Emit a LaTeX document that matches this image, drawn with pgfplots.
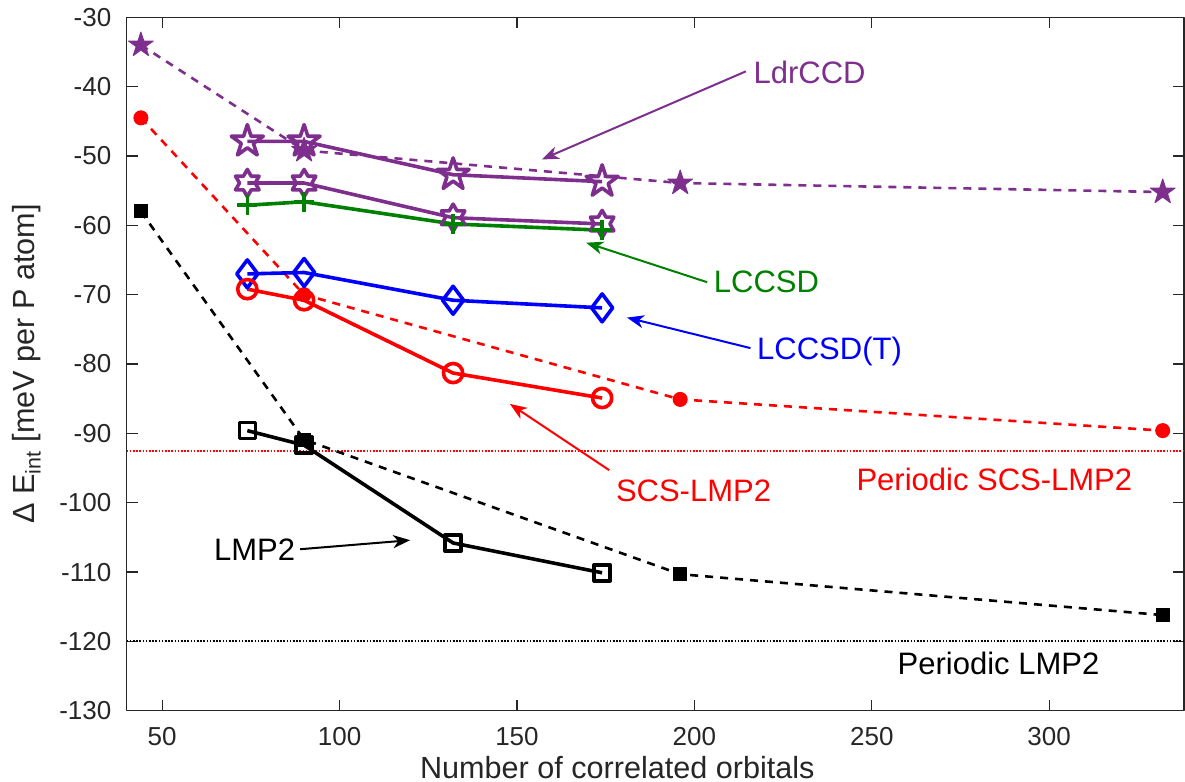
\documentclass[border=0pt]{standalone}
\usepackage{fontspec}
\setmainfont{Liberation Sans}
\usepackage{pgfplots}
\pgfplotsset{compat=1.18}
\usetikzlibrary{arrows.meta}

\definecolor{mpurple}{rgb}{0.494,0.184,0.556}
\definecolor{mgreen}{rgb}{0,0.5,0}
\definecolor{axgray}{rgb}{0.15,0.15,0.15}

% five- and six-pointed star marks (matlab pentagram / hexagram)
\pgfdeclareplotmark{pentagram}{%
  \pgfpathmoveto{\pgfpointpolar{90}{\pgfplotmarksize}}%
  \pgfpathlineto{\pgfpointpolar{126}{0.382\pgfplotmarksize}}%
  \pgfpathlineto{\pgfpointpolar{162}{\pgfplotmarksize}}%
  \pgfpathlineto{\pgfpointpolar{198}{0.382\pgfplotmarksize}}%
  \pgfpathlineto{\pgfpointpolar{234}{\pgfplotmarksize}}%
  \pgfpathlineto{\pgfpointpolar{270}{0.382\pgfplotmarksize}}%
  \pgfpathlineto{\pgfpointpolar{306}{\pgfplotmarksize}}%
  \pgfpathlineto{\pgfpointpolar{342}{0.382\pgfplotmarksize}}%
  \pgfpathlineto{\pgfpointpolar{18}{\pgfplotmarksize}}%
  \pgfpathlineto{\pgfpointpolar{54}{0.382\pgfplotmarksize}}%
  \pgfpathclose\pgfusepathqstroke}
\pgfdeclareplotmark{pentagram*}{%
  \pgfpathmoveto{\pgfpointpolar{90}{\pgfplotmarksize}}%
  \pgfpathlineto{\pgfpointpolar{126}{0.382\pgfplotmarksize}}%
  \pgfpathlineto{\pgfpointpolar{162}{\pgfplotmarksize}}%
  \pgfpathlineto{\pgfpointpolar{198}{0.382\pgfplotmarksize}}%
  \pgfpathlineto{\pgfpointpolar{234}{\pgfplotmarksize}}%
  \pgfpathlineto{\pgfpointpolar{270}{0.382\pgfplotmarksize}}%
  \pgfpathlineto{\pgfpointpolar{306}{\pgfplotmarksize}}%
  \pgfpathlineto{\pgfpointpolar{342}{0.382\pgfplotmarksize}}%
  \pgfpathlineto{\pgfpointpolar{18}{\pgfplotmarksize}}%
  \pgfpathlineto{\pgfpointpolar{54}{0.382\pgfplotmarksize}}%
  \pgfpathclose\pgfusepathqfillstroke}
\pgfdeclareplotmark{hexagram}{%
  \pgfpathmoveto{\pgfpointpolar{90}{\pgfplotmarksize}}%
  \pgfpathlineto{\pgfpointpolar{120}{0.577\pgfplotmarksize}}%
  \pgfpathlineto{\pgfpointpolar{150}{\pgfplotmarksize}}%
  \pgfpathlineto{\pgfpointpolar{180}{0.577\pgfplotmarksize}}%
  \pgfpathlineto{\pgfpointpolar{210}{\pgfplotmarksize}}%
  \pgfpathlineto{\pgfpointpolar{240}{0.577\pgfplotmarksize}}%
  \pgfpathlineto{\pgfpointpolar{270}{\pgfplotmarksize}}%
  \pgfpathlineto{\pgfpointpolar{300}{0.577\pgfplotmarksize}}%
  \pgfpathlineto{\pgfpointpolar{330}{\pgfplotmarksize}}%
  \pgfpathlineto{\pgfpointpolar{0}{0.577\pgfplotmarksize}}%
  \pgfpathlineto{\pgfpointpolar{30}{\pgfplotmarksize}}%
  \pgfpathlineto{\pgfpointpolar{60}{0.577\pgfplotmarksize}}%
  \pgfpathclose\pgfusepathqstroke}

\tikzset{
  ann/.style={font=\fontsize{15.5}{18}\selectfont, inner sep=0pt, anchor=base west},
  annarrow/.style={line width=1pt, -{Stealth[length=8.5pt,width=6.5pt,inset=2.5pt]}},
}

\begin{document}
\begin{tikzpicture}
\useasboundingbox (-63.35pt,-35.6pt) rectangle (529.15pt,355.4pt);
\begin{axis}[
  at={(0,0)}, anchor=south west,
  scale only axis, width=528.65pt, height=346.75pt,
  xmin=40, xmax=338, ymin=-130, ymax=-30,
  xtick={50,100,...,300}, ytick={-130,-120,...,-30},
  tick align=inside, major tick length=5.5pt,
  axis line style={axgray, line width=0.6pt},
  every tick/.style={axgray, line width=0.6pt},
  tick label style={font=\fontsize{13}{15}\selectfont, text=axgray},
  /pgf/number format/assume math mode=true,
  yticklabel style={inner sep=0pt, xshift=-7.5pt},
  xticklabel style={inner sep=0pt, yshift=-8.3pt},
  xlabel={Number of correlated orbitals},
  ylabel={Δ E\textsubscript{int} [meV per P atom]},
  label style={font=\fontsize{15.3}{18}\selectfont, text=axgray},
  xlabel style={at={(axis description cs:0.464,-0.0816)}, anchor=center},
  ylabel style={at={(axis description cs:-0.0943,0.5)}, anchor=center},
  line join=round,
  dashedline/.style={line width=1.3pt, dash pattern=on 4pt off 3.5pt},
  solidline/.style={line width=1.8pt},
]
% reference periodic values
\addplot[red, line width=1pt, dash pattern=on 0.8pt off 0.8pt] coordinates {(40,-92.5) (338,-92.5)};
\addplot[black, line width=1pt, dash pattern=on 0.8pt off 0.8pt] coordinates {(40,-120) (338,-120)};

% dashed series
\addplot[mpurple, dashedline, mark=pentagram*, mark size=6.5pt, mark options={solid, fill=mpurple, line width=0.5pt}]
  coordinates {(44,-34.0) (90,-49.2) (196,-53.9) (332,-55.2)};
\addplot[red, dashedline, mark=*, mark size=3.5pt, mark options={solid, fill=red, line width=0.5pt}]
  coordinates {(44,-44.5) (90,-70.0) (196,-85.1) (332,-89.6)};
\addplot[black, dashedline, mark=square*, mark size=3.25pt, mark options={solid, fill=black, line width=0.5pt}]
  coordinates {(44,-58.0) (90,-90.9) (196,-110.3) (332,-116.2)};

% solid series
\addplot[mpurple, solidline, mark=pentagram, mark size=8.4pt]
  coordinates {(74,-47.9) (90,-47.9) (132,-52.7) (174,-53.7)};
\addplot[mpurple, solidline, mark=hexagram, mark size=6.8pt]
  coordinates {(74,-53.9) (90,-53.9) (132,-58.9) (174,-59.8)};
\addplot[mgreen, solidline, mark=+, mark size=5pt]
  coordinates {(74,-57.1) (90,-56.6) (132,-59.8) (174,-60.7)};
\addplot[blue, solidline, mark=diamond, mark size=7pt]
  coordinates {(74,-67.0) (90,-66.8) (132,-70.8) (174,-71.9)};
\addplot[red, solidline, mark=o, mark size=4.8pt]
  coordinates {(74,-69.2) (90,-70.8) (132,-81.3) (174,-84.9)};
\addplot[black, solidline, mark=square, mark size=4pt]
  coordinates {(74,-89.6) (90,-91.7) (132,-105.8) (174,-110.1)};

% annotations
\node[ann, text=mpurple] at (axis cs:216.6,-39.5) {LdrCCD};
\draw[annarrow, mpurple] (axis cs:214.5,-37.8) -- (axis cs:157.0,-50.5);
\node[ann, text=mgreen] at (axis cs:205.4,-69.65) {LCCSD};
\draw[annarrow, mgreen] (axis cs:203.6,-68.2) -- (axis cs:169.5,-62.5);
\node[ann, text=blue] at (axis cs:217.6,-79.4) {LCCSD(T)};
\draw[annarrow, blue] (axis cs:215.8,-77.7) -- (axis cs:181.0,-73.3);
\node[ann, text=red] at (axis cs:177.8,-99.8) {SCS-LMP2};
\draw[annarrow, red] (axis cs:176.0,-95.3) -- (axis cs:148.0,-85.75);
\node[ann, text=black] at (axis cs:64.5,-108.3) {LMP2};
\draw[annarrow, black] (axis cs:88.9,-106.7) -- (axis cs:119.9,-105.4);
\node[ann, text=red] at (axis cs:245.6,-98.2) {Periodic SCS-LMP2};
\node[ann, text=black] at (axis cs:257.2,-124.8) {Periodic LMP2};
\end{axis}
\end{tikzpicture}
\end{document}
